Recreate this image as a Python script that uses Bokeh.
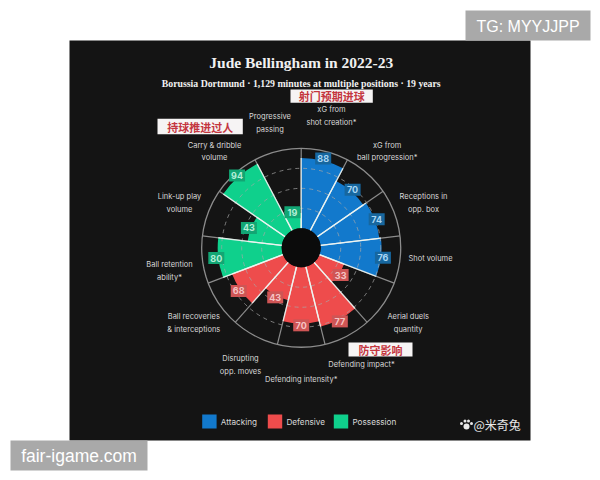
import math
from bokeh.plotting import figure
from bokeh.embed import file_html
from bokeh.resources import INLINE
from bokeh.core.properties import value as V

# ---------- data ----------
categories = ["xG from\nshot creation*", "xG from\nball progression*", "Receptions in\nopp. box", "Shot volume",
              "Aerial duels\nquantity", "Defending impact*", "Defending intensity*", "Disrupting\nopp. moves",
              "Ball recoveries\n& interceptions", "Ball retention\nability*", "Link-up play\nvolume",
              "Carry & dribble\nvolume", "Progressive\npassing"]
values = [88, 70, 74, 76, 33, 77, 70, 43, 68, 80, 43, 94, 19]
groups = ["Attacking"] * 4 + ["Defensive"] * 5 + ["Possession"] * 4
legend_names = ["Attacking", "Defensive", "Possession"]
grid_levels = [25, 50, 75]
title = "Jude Bellingham in 2022-23"
subtitle = "Borussia Dortmund · 1,129 minutes at multiple positions · 19 years"
notes = ["射门预期进球", "持球推进过人", "防守影响"]

# ---------- style and layout ----------
BAR = {"Attacking": "#1279cc", "Defensive": "#ee4c4c", "Possession": "#0fd08c"}
TAG = {"Attacking": "#17679f", "Defensive": "#cf5555", "Possession": "#12a674"}
TAGTXT = {"Attacking": "#a9d6f5", "Defensive": "#f6c4c4", "Possession": "#b5efd8"}
BG = "#141414"
CX, CY, S = 300.7, 247.3, 0.8          # centre in page pixels, pixels per value unit
HOLE = 24.4                            # inner radius in value units
FONT = "Inter"

W, H = 600, 480
def X(px): return (px - CX) / S
def Y(py): return (CY - py) / S

p = figure(width=W, height=H, x_range=(X(0), X(W)), y_range=(Y(H), Y(0)),
           output_backend="svg", toolbar_location=None, min_border=0,
           background_fill_color="white", border_fill_color="white", outline_line_color=None)
p.axis.visible = False
p.grid.visible = False

def box(x0, y0, x1, y1, color):
    p.quad(left=X(x0), right=X(x1), top=Y(y0), bottom=Y(y1), fill_color=color, line_color=None)

def txt(px, py, s, size, color="#d8d8d8", font=FONT, style="normal", align="center"):
    p.text([X(px)], [Y(py)], text=[s], text_font=V(font), text_font_size=f"{size}px",
           text_font_style=style, text_color=color, text_align=align, text_baseline="middle")

box(69, 40, 530, 440, BG)

n = len(values)
step = 2 * math.pi / n
starts = [math.pi / 2 - (i + 1) * step for i in range(n)]
ends = [math.pi / 2 - i * step for i in range(n)]
radii = [HOLE + v for v in values]
OUT = HOLE + 100

# outer ring and spokes
p.circle(x=[0], y=[0], radius=OUT, fill_color=None, line_color="#8c8c8c", line_width=1.3)
for a in ends:
    p.line([HOLE * math.cos(a), OUT * math.cos(a)], [HOLE * math.sin(a), OUT * math.sin(a)],
           line_color="#8c8c8c", line_width=1.2)

# bars
p.annular_wedge(x=[0] * n, y=[0] * n, inner_radius=[HOLE] * n, outer_radius=radii,
                start_angle=starts, end_angle=ends,
                fill_color=[BAR[g] for g in groups], line_color=None)

# dashed grid over the bars
for g in grid_levels:
    p.circle(x=[0], y=[0], radius=HOLE + g, fill_color=None, line_color="#a8a8a8",
             line_alpha=0.7, line_width=1, line_dash="4 4")

# white radial edges
for r, a0, a1 in zip(radii, starts, ends):
    for a in (a0, a1):
        p.line([HOLE * math.cos(a), r * math.cos(a)], [HOLE * math.sin(a), r * math.sin(a)],
               line_color="#eef5f2", line_width=1.3, line_alpha=0.9)

# hole
p.circle(x=[0], y=[0], radius=HOLE, fill_color="#0b0b0b", line_color=None)

# value tags
for v, r, a0, a1, g in zip(values, radii, starts, ends, groups):
    a = (a0 + a1) / 2
    x, y = (r + 2.5) * math.cos(a), (r + 2.5) * math.sin(a)
    p.rect(x=[x], y=[y], width=16 / S, height=12 / S, fill_color=TAG[g], line_color=None)
    p.text([x], [y], text=[str(v)], text_font=V(FONT), text_font_size="9px", text_font_style="bold",
           text_color=TAGTXT[g], text_align="center", text_baseline="middle")

# spoke labels (centre x, first-line y, line gap in page pixels)
label_pos = [(331, 109, 13), (386.7, 144.7, 12.6), (423, 196, 12.6), (430, 258, 0),
             (407.7, 316, 13), (361, 363.7, 0), (300.7, 378.7, 0), (240, 357.7, 13),
             (193.3, 316, 12.7), (169, 264, 13), (179, 196, 13), (214, 144.7, 12.6), (269.5, 115.7, 13)]
for s, (lx, ly, gap) in zip(categories, label_pos):
    for k, line in enumerate(s.split("\n")):
        txt(lx, ly + k * gap, line, 7.5)

# heading
txt(300.7, 62, title, 15.5, color="#f0f0f0", font="Liberation Serif", style="bold")
txt(300.7, 82.7, subtitle, 9.8, color="#f0f0f0", font="Liberation Serif", style="bold")

# Chinese notes
note_boxes = [(290, 89, 372.3, 102.3), (157, 118.3, 242.3, 133.7), (348, 342, 412, 356)]
for s, (x0, y0, x1, y1) in zip(notes, note_boxes):
    box(x0, y0, x1, y1, "#f6f4f4")
    txt((x0 + x1) / 2, (y0 + y1) / 2, s, 11, color="#c4363f", font="Noto Sans CJK SC", style="bold")

# legend
for name, sx in zip(legend_names, (201.7, 267.3, 333.3)):
    box(sx, 414, sx + 14.4, 428, BAR[name])
    txt(sx + 18.6, 421.3, name, 8.2, align="left")

# watermarks
px_paw = [(461, 423), (464.5, 420.5), (468, 420.5), (471, 423)]
for wx, wy in px_paw:
    p.circle(x=[X(wx)], y=[Y(wy)], radius=1.5 / S, fill_color="#e8e8e8", line_color=None)
p.circle(x=[X(466)], y=[Y(426)], radius=3 / S, fill_color="#e8e8e8", line_color=None)
txt(473, 424, "@米奇兔", 12, color="#e8e8e8", font="Noto Sans CJK SC", align="left")

box(465, 10, 590, 40, "#a9a9a9")
txt(527.5, 25.5, "TG: MYYJJPP", 16, color="#ffffff", font="Liberation Sans")
box(10, 440, 147, 470, "#a9a9a9")
txt(78.5, 455.5, "fair-igame.com", 17.5, color="#ffffff", font="Liberation Sans")

open("out.html", "w").write(file_html(p, INLINE))
